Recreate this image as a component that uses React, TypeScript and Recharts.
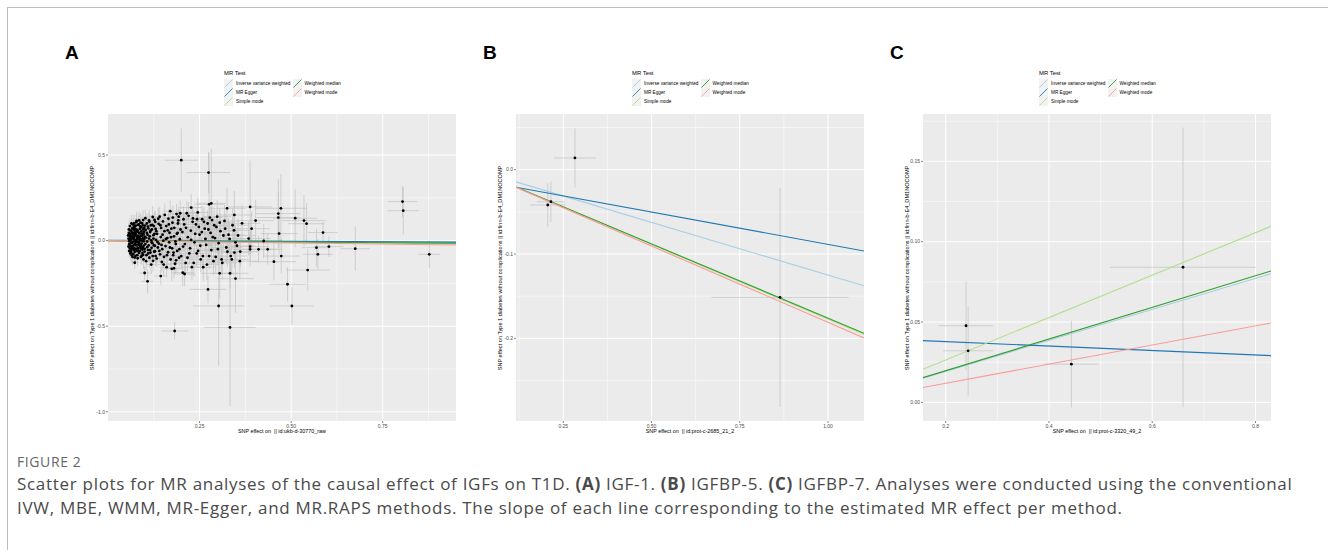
import React from "react";
import {
  ScatterChart,
  Scatter,
  XAxis,
  YAxis,
  CartesianGrid,
  ErrorBar,
  ReferenceLine,
} from "recharts";

// [beta.exposure, beta.outcome, se.exposure, se.outcome]
type Pt = [number, number, number, number];

const methods = [
  "Inverse variance weighted",
  "MR Egger",
  "Simple mode",
  "Weighted median",
  "Weighted mode",
];
const methodColors = ["#a6cee3", "#1f78b4", "#b2df8a", "#33a02c", "#fb9a99"];

// ---- panel A : IGF-1 ----
const pointsA: Pt[] = [
  // dense cluster
  [0.056, 0.012, 0.004, 0.018], [0.058, -0.021, 0.005, 0.02], [0.059, 0.034, 0.004, 0.022],
  [0.06, -0.045, 0.005, 0.025], [0.061, 0.002, 0.004, 0.016], [0.062, 0.058, 0.005, 0.03],
  [0.063, -0.066, 0.006, 0.03], [0.064, 0.025, 0.005, 0.02], [0.065, -0.012, 0.005, 0.019],
  [0.066, 0.071, 0.006, 0.034], [0.067, -0.033, 0.005, 0.024], [0.068, 0.043, 0.006, 0.026],
  [0.069, -0.078, 0.006, 0.035], [0.07, 0.009, 0.005, 0.021], [0.071, -0.054, 0.006, 0.03],
  [0.072, 0.081, 0.007, 0.036], [0.073, -0.003, 0.006, 0.02], [0.074, 0.052, 0.006, 0.028],
  [0.075, -0.089, 0.007, 0.04], [0.076, 0.031, 0.006, 0.025], [0.077, -0.027, 0.006, 0.024],
  [0.078, 0.064, 0.007, 0.032], [0.079, -0.061, 0.007, 0.033], [0.08, 0.017, 0.006, 0.022],
  [0.081, -0.041, 0.007, 0.028], [0.082, 0.092, 0.008, 0.04], [0.083, -0.008, 0.006, 0.02],
  [0.084, 0.047, 0.007, 0.03], [0.085, -0.072, 0.008, 0.036], [0.086, 0.005, 0.007, 0.024],
  [0.087, 0.069, 0.008, 0.035], [0.088, -0.036, 0.007, 0.028], [0.089, 0.028, 0.007, 0.026],
  [0.09, -0.095, 0.008, 0.042], [0.091, 0.056, 0.008, 0.032], [0.092, -0.017, 0.007, 0.025],
  [0.093, 0.102, 0.009, 0.045], [0.094, -0.052, 0.008, 0.032], [0.095, 0.013, 0.008, 0.026],
  [0.096, -0.083, 0.009, 0.04], [0.097, 0.038, 0.008, 0.03], [0.098, -0.004, 0.008, 0.025],
  [0.099, 0.075, 0.009, 0.038], [0.1, -0.064, 0.009, 0.036], [0.057, 0.045, 0.004, 0.022],
  [0.06, 0.022, 0.005, 0.019], [0.062, -0.032, 0.005, 0.021], [0.064, -0.055, 0.005, 0.027],
  [0.066, 0.015, 0.005, 0.018], [0.068, -0.007, 0.005, 0.02], [0.07, 0.062, 0.006, 0.03],
  [0.072, -0.043, 0.006, 0.026], [0.074, -0.018, 0.006, 0.022], [0.076, 0.088, 0.007, 0.038],
  [0.078, -0.005, 0.006, 0.021], [0.08, 0.051, 0.007, 0.029], [0.082, -0.058, 0.007, 0.031],
  [0.084, 0.021, 0.007, 0.024], [0.086, -0.025, 0.007, 0.026], [0.088, 0.083, 0.008, 0.038],
  [0.09, 0.001, 0.007, 0.024], [0.092, 0.042, 0.008, 0.03], [0.094, -0.071, 0.008, 0.036],
  [0.096, 0.066, 0.008, 0.034], [0.098, -0.029, 0.008, 0.028], [0.1, 0.024, 0.008, 0.027],
  [0.058, -0.004, 0.004, 0.017], [0.063, 0.008, 0.005, 0.019], [0.067, 0.029, 0.005, 0.022],
  [0.071, 0.038, 0.006, 0.025], [0.075, 0.004, 0.006, 0.021], [0.079, 0.027, 0.007, 0.024],
  [0.083, -0.022, 0.007, 0.025], [0.087, 0.011, 0.007, 0.024], [0.091, -0.047, 0.008, 0.03],
  [0.095, 0.089, 0.009, 0.04], [0.065, -0.085, 0.006, 0.038], [0.069, 0.093, 0.007, 0.04],
  [0.073, -0.099, 0.007, 0.043], [0.077, 0.108, 0.008, 0.045], [0.081, -0.103, 0.008, 0.045],
  [0.085, 0.118, 0.009, 0.048],
  [0.055, 0.03, 0.004, 0.03], [0.056, -0.035, 0.004, 0.032], [0.057, 0.065, 0.005, 0.04],
  [0.058, -0.06, 0.005, 0.038], [0.059, 0.005, 0.005, 0.028], [0.06, 0.085, 0.005, 0.045],
  [0.061, -0.075, 0.005, 0.042], [0.062, 0.04, 0.005, 0.033], [0.063, -0.015, 0.005, 0.03],
  [0.064, 0.1, 0.006, 0.05], [0.065, 0.048, 0.006, 0.036], [0.066, -0.045, 0.006, 0.036],
  [0.067, -0.095, 0.006, 0.048], [0.068, 0.075, 0.006, 0.042], [0.069, 0.018, 0.006, 0.032],
  [0.07, -0.025, 0.006, 0.034], [0.071, 0.1, 0.007, 0.05], [0.072, 0.022, 0.006, 0.034],
  [0.073, -0.065, 0.007, 0.042], [0.074, 0.07, 0.007, 0.044], [0.075, 0.042, 0.007, 0.038],
  [0.076, -0.05, 0.007, 0.04], [0.077, -0.008, 0.007, 0.035], [0.078, 0.115, 0.008, 0.055],
  [0.079, 0.008, 0.007, 0.036], [0.08, -0.085, 0.008, 0.048], [0.081, 0.06, 0.008, 0.044],
  [0.082, 0.028, 0.008, 0.04], [0.083, -0.045, 0.008, 0.042], [0.084, 0.095, 0.008, 0.05],
  [0.085, -0.012, 0.008, 0.04], [0.086, 0.042, 0.008, 0.044], [0.087, -0.06, 0.009, 0.046],
  [0.088, 0.012, 0.009, 0.042], [0.089, 0.105, 0.009, 0.055], [0.09, -0.03, 0.009, 0.044],
  [0.091, 0.078, 0.009, 0.05], [0.092, -0.088, 0.009, 0.052], [0.093, 0.03, 0.009, 0.046],
  [0.094, -0.002, 0.009, 0.044], [0.095, -0.04, 0.01, 0.048], [0.096, 0.12, 0.01, 0.058],
  [0.097, -0.11, 0.01, 0.056], [0.098, 0.052, 0.01, 0.05], [0.099, 0.01, 0.01, 0.046],
  [0.1, -0.048, 0.01, 0.05], [0.101, 0.088, 0.01, 0.054], [0.102, -0.02, 0.01, 0.048],
  [0.103, 0.062, 0.011, 0.052], [0.104, 0.018, 0.011, 0.05], [0.105, -0.085, 0.011, 0.056],
  [0.106, 0.1, 0.011, 0.058], [0.107, -0.005, 0.011, 0.05], [0.108, 0.035, 0.011, 0.052],
  [0.109, -0.055, 0.012, 0.054], [0.11, 0.072, 0.012, 0.056], [0.111, -0.028, 0.012, 0.052],
  [0.112, 0.118, 0.012, 0.06], [0.113, -0.1, 0.012, 0.058], [0.114, 0.025, 0.012, 0.052],
  [0.115, 0.05, 0.012, 0.054], [0.116, -0.07, 0.013, 0.056], [0.117, 0.09, 0.013, 0.058],
  [0.118, 0.002, 0.013, 0.052], [0.119, -0.042, 0.013, 0.054], [0.12, 0.065, 0.013, 0.058],
  [0.121, -0.015, 0.013, 0.054], [0.122, 0.138, 0.014, 0.064], [0.123, -0.118, 0.014, 0.062],
  [0.124, 0.012, 0.014, 0.054], [0.125, 0.085, 0.014, 0.06], [0.126, -0.065, 0.014, 0.058],
  [0.127, 0.04, 0.014, 0.056], [0.128, -0.03, 0.014, 0.056], [0.129, 0.11, 0.015, 0.062],
  [0.13, -0.09, 0.015, 0.06],
  // 0.10 - 0.25
  [0.102, 0.131, 0.01, 0.05], [0.104, -0.12, 0.01, 0.05], [0.106, 0.045, 0.01, 0.035],
  [0.107, -0.038, 0.01, 0.033], [0.109, 0.082, 0.011, 0.04], [0.11, -0.075, 0.011, 0.04],
  [0.112, 0.012, 0.011, 0.03], [0.113, 0.11, 0.012, 0.05], [0.115, -0.055, 0.012, 0.038],
  [0.116, 0.058, 0.012, 0.04], [0.118, -0.14, 0.013, 0.055], [0.119, -0.01, 0.012, 0.032],
  [0.121, 0.092, 0.013, 0.045], [0.122, -0.09, 0.013, 0.045], [0.124, 0.032, 0.013, 0.036],
  [0.125, -0.028, 0.013, 0.035], [0.127, 0.121, 0.014, 0.05], [0.128, -0.062, 0.014, 0.042],
  [0.13, 0.068, 0.014, 0.044], [0.131, 0.005, 0.014, 0.035], [0.133, -0.105, 0.015, 0.05],
  [0.134, 0.04, 0.015, 0.04], [0.136, -0.04, 0.015, 0.04], [0.138, 0.098, 0.016, 0.05],
  [0.139, -0.018, 0.015, 0.038], [0.141, 0.14, 0.016, 0.055], [0.142, -0.08, 0.016, 0.046],
  [0.144, 0.021, 0.016, 0.04], [0.145, 0.074, 0.017, 0.046], [0.147, -0.125, 0.017, 0.055],
  [0.148, -0.05, 0.017, 0.044], [0.15, 0.112, 0.018, 0.052], [0.151, 0.0, 0.017, 0.04],
  [0.153, -0.095, 0.018, 0.05], [0.154, 0.055, 0.018, 0.046], [0.157, -0.032, 0.018, 0.044],
  [0.159, 0.085, 0.019, 0.05], [0.16, -0.155, 0.019, 0.06], [0.162, 0.015, 0.019, 0.044],
  [0.164, -0.068, 0.02, 0.05], [0.165, 0.128, 0.02, 0.056], [0.167, -0.01, 0.02, 0.045],
  [0.168, 0.046, 0.02, 0.048], [0.17, 0.172, 0.021, 0.062], [0.171, -0.11, 0.021, 0.055],
  [0.173, 0.07, 0.021, 0.05], [0.175, -0.045, 0.021, 0.05], [0.176, 0.105, 0.022, 0.056],
  [0.178, -0.085, 0.022, 0.055], [0.18, 0.025, 0.022, 0.05], [0.187, 0.155, 0.023, 0.06],
  [0.183, -0.135, 0.023, 0.06], [0.185, -0.02, 0.023, 0.05], [0.193, 0.14, 0.024, 0.056],
  [0.189, -0.06, 0.024, 0.055], [0.19, 0.045, 0.024, 0.052], [0.192, 0.118, 0.025, 0.06],
  [0.194, -0.1, 0.025, 0.06], [0.196, 0.008, 0.025, 0.052], [0.198, 0.065, 0.026, 0.058],
  [0.132, 0.055, 0.015, 0.058], [0.135, -0.008, 0.015, 0.056], [0.137, 0.128, 0.016, 0.064],
  [0.14, -0.06, 0.016, 0.06], [0.143, 0.09, 0.016, 0.062], [0.146, -0.025, 0.017, 0.06],
  [0.149, 0.035, 0.017, 0.06], [0.152, -0.14, 0.018, 0.068], [0.155, 0.15, 0.018, 0.068],
  [0.158, 0.01, 0.018, 0.062], [0.161, -0.085, 0.019, 0.066], [0.163, 0.06, 0.019, 0.064],
  [0.166, 0.095, 0.02, 0.066], [0.169, -0.04, 0.02, 0.064], [0.172, 0.02, 0.02, 0.064],
  [0.174, -0.165, 0.021, 0.072], [0.177, 0.135, 0.021, 0.07], [0.179, -0.07, 0.021, 0.068],
  [0.181, 0.075, 0.022, 0.068], [0.184, -0.005, 0.022, 0.066], [0.186, -0.115, 0.023, 0.072],
  [0.188, 0.04, 0.023, 0.068], [0.191, 0.1, 0.023, 0.072], [0.195, -0.05, 0.024, 0.07],
  [0.197, 0.16, 0.025, 0.076], [0.2, -0.09, 0.025, 0.074], [0.203, 0.05, 0.025, 0.072],
  [0.206, 0.125, 0.026, 0.076], [0.21, -0.02, 0.026, 0.072], [0.213, 0.075, 0.027, 0.076],
  [0.217, -0.1, 0.027, 0.078], [0.22, 0.145, 0.028, 0.08], [0.224, -0.045, 0.028, 0.076],
  [0.227, 0.005, 0.029, 0.076], [0.231, 0.11, 0.029, 0.08], [0.234, -0.13, 0.03, 0.082],
  [0.238, 0.04, 0.03, 0.078], [0.242, -0.075, 0.031, 0.08], [0.245, 0.165, 0.031, 0.085],
  [0.248, 0.08, 0.032, 0.082],
  // 0.20 - 0.36
  [0.205, -0.035, 0.026, 0.06], [0.208, 0.095, 0.027, 0.065], [0.212, -0.13, 0.028, 0.07],
  [0.215, 0.16, 0.028, 0.07], [0.218, 0.02, 0.028, 0.06], [0.222, -0.075, 0.029, 0.068],
  [0.226, 0.058, 0.03, 0.066], [0.229, -0.155, 0.03, 0.075], [0.232, 0.13, 0.031, 0.072],
  [0.236, -0.01, 0.031, 0.064], [0.24, 0.095, 0.032, 0.07], [0.243, 0.125, 0.032, 0.074],
  [0.246, -0.06, 0.033, 0.07], [0.25, 0.035, 0.033, 0.068], [0.253, -0.11, 0.034, 0.075],
  [0.257, 0.125, 0.034, 0.076], [0.26, -0.155, 0.035, 0.08], [0.264, 0.07, 0.035, 0.074],
  [0.268, -0.025, 0.036, 0.072], [0.272, 0.1, 0.036, 0.078], [0.276, -0.09, 0.037, 0.078],
  [0.28, 0.045, 0.037, 0.076], [0.284, 0.12, 0.038, 0.08], [0.288, -0.12, 0.038, 0.082],
  [0.292, 0.015, 0.039, 0.078], [0.296, 0.08, 0.04, 0.08], [0.3, -0.05, 0.04, 0.08],
  [0.305, 0.105, 0.041, 0.085], [0.31, -0.11, 0.042, 0.088], [0.315, 0.03, 0.042, 0.082],
  [0.32, 0.07, 0.043, 0.086], [0.326, -0.065, 0.044, 0.088], [0.332, 0.01, 0.045, 0.086],
  [0.338, -0.11, 0.046, 0.09], [0.344, 0.06, 0.047, 0.09], [0.352, -0.03, 0.048, 0.09],
  [0.252, -0.03, 0.032, 0.08], [0.256, 0.05, 0.033, 0.082], [0.259, -0.09, 0.033, 0.085],
  [0.262, 0.11, 0.034, 0.086], [0.266, 0.01, 0.034, 0.084], [0.27, -0.14, 0.035, 0.09],
  [0.274, 0.065, 0.035, 0.086], [0.278, 0.135, 0.036, 0.09], [0.282, -0.055, 0.036, 0.088],
  [0.286, 0.02, 0.037, 0.088], [0.29, 0.09, 0.037, 0.09], [0.294, -0.095, 0.038, 0.092],
  [0.298, 0.14, 0.039, 0.095], [0.302, -0.015, 0.039, 0.09], [0.307, 0.055, 0.04, 0.092],
  [0.312, -0.13, 0.041, 0.096], [0.318, 0.115, 0.042, 0.096], [0.323, -0.04, 0.043, 0.094],
  [0.329, 0.035, 0.044, 0.095], [0.335, -0.09, 0.045, 0.098], [0.34, 0.09, 0.046, 0.098],
  [0.348, -0.01, 0.047, 0.1], [0.355, 0.03, 0.048, 0.1], [0.36, -0.12, 0.049, 0.105],
  // scattered / outlying SNPs
  [0.2, 0.47, 0.045, 0.185], [0.2745, 0.398, 0.06, 0.12], [0.276, 0.212, 0.04, 0.3],
  [0.282, 0.218, 0.04, 0.32], [0.325, 0.189, 0.05, 0.12], [0.227, 0.193, 0.03, 0.08],
  [0.388, 0.197, 0.06, 0.27], [0.472, 0.189, 0.07, 0.2], [0.465, 0.158, 0.06, 0.2],
  [0.465, 0.135, 0.06, 0.15], [0.511, 0.131, 0.06, 0.17], [0.535, 0.117, 0.06, 0.15],
  [0.542, 0.099, 0.05, 0.12], [0.403, 0.117, 0.05, 0.12], [0.366, 0.101, 0.05, 0.11],
  [0.345, 0.15, 0.05, 0.14], [0.392, 0.07, 0.05, 0.1], [0.467, 0.041, 0.05, 0.12],
  [0.587, 0.047, 0.04, 0.06], [0.384, 0.012, 0.06, 0.1], [0.425, -0.002, 0.05, 0.1],
  [0.388, -0.035, 0.05, 0.09], [0.388, -0.051, 0.06, 0.1], [0.411, -0.051, 0.05, 0.08],
  [0.436, -0.051, 0.04, 0.09], [0.569, -0.041, 0.04, 0.11], [0.573, -0.08, 0.04, 0.09],
  [0.603, -0.035, 0.04, 0.06], [0.675, -0.047, 0.04, 0.13], [0.804, 0.228, 0.04, 0.09],
  [0.806, 0.175, 0.043, 0.14], [0.877, -0.08, 0.03, 0.08], [0.473, -0.09, 0.05, 0.1],
  [0.453, -0.123, 0.06, 0.11], [0.545, -0.172, 0.06, 0.12], [0.49, -0.255, 0.05, 0.1],
  [0.502, -0.382, 0.06, 0.11], [0.302, -0.382, 0.07, 0.35], [0.333, -0.507, 0.07, 0.46],
  [0.273, -0.285, 0.05, 0.08], [0.182, -0.528, 0.036, 0.05], [0.1, -0.189, 0.015, 0.04],
  [0.108, -0.238, 0.016, 0.07], [0.144, -0.207, 0.018, 0.05], [0.073, -0.129, 0.01, 0.035],
  [0.305, -0.191, 0.05, 0.15], [0.333, -0.191, 0.05, 0.09], [0.348, -0.222, 0.05, 0.2],
  [0.204, -0.187, 0.03, 0.08], [0.209, -0.195, 0.03, 0.07], [0.18, -0.162, 0.025, 0.06],
  [0.345, -0.07, 0.05, 0.09], [0.361, -0.064, 0.05, 0.09],
];
const interceptsA = [0, 0.0015, 0, 0, 0];
const slopesA = [-0.013, -0.011, -0.02, -0.016, -0.027];
const xTicksA = [0.25, 0.5, 0.75];
const yTicksA = [-1, -0.5, 0, 0.5];
const xMinorA = [0.125, 0.375, 0.625, 0.875];
const yMinorA = [-0.75, -0.25, 0.25];

// ---- panel B : IGFBP-5 ----
const pointsB: Pt[] = [
  [0.283, 0.0139, 0.06, 0.035],
  [0.206, -0.0419, 0.05, 0.026],
  [0.215, -0.038, 0.04, 0.024],
  [0.864, -0.1514, 0.194, 0.13],
];
const interceptsB = [0, -0.012, 0, 0, 0];
const slopesB = [-0.125, -0.0766, -0.177, -0.176, -0.181];
const xTicksB = [0.25, 0.5, 0.75, 1.0];
const yTicksB = [-0.2, -0.1, 0];
const xMinorB = [0.125, 0.375, 0.625, 0.875];
const yMinorB = [-0.25, -0.15, -0.05, 0.05];

// ---- panel C : IGFBP-7 ----
const pointsC: Pt[] = [
  [0.2394, 0.0477, 0.053, 0.0274],
  [0.2434, 0.0321, 0.0485, 0.0278],
  [0.4434, 0.0238, 0.052, 0.027],
  [0.6596, 0.0841, 0.1415, 0.087],
];
const interceptsC = [0, 0.0406, 0, 0, 0];
const slopesC = [0.0965, -0.0139, 0.132, 0.0985, 0.0595];
const xTicksC = [0.2, 0.4, 0.6, 0.8];
const yTicksC = [0, 0.05, 0.1, 0.15];
const xMinorC = [0.3, 0.5, 0.7];
const yMinorC = [0.025, 0.075, 0.125, 0.175];

const yTitle =
  "SNP effect on Type 1 diabetes without complications || id:finn-b-E4_DM1NOCOMP";

const SANS = "'Liberation Sans', Arial, sans-serif";
const PLOT_TOP = 114;
const PW = 348;
const PH = 307;
const YW = 40;
const MT = 4;
const MR = 4;
const XH = 12;

const Dot = (p: any) =>
  p.cx == null ? null : <circle cx={p.cx} cy={p.cy} r={1.4} fill="#000" />;

function LegendKey({ color }: { color: string }) {
  return (
    <svg width={9} height={9} style={{ display: "block" }}>
      <rect width={9} height={9} fill="#F2F2F2" />
      <line x1={0.5} y1={8.5} x2={8.5} y2={0.5} stroke={color} strokeWidth={0.9} />
    </svg>
  );
}

function MrLegend({ left }: { left: number }) {
  const cols = [0, 0, 0, 1, 1];
  const rows = [0, 1, 2, 0, 1];
  return (
    <>
      <div
        style={{
          position: "absolute",
          left,
          top: 69,
          fontSize: 5.9,
          lineHeight: "8px",
          color: "#000",
          whiteSpace: "nowrap",
        }}
      >
        MR Test
      </div>
      {methods.map((m, i) => (
        <div
          key={m}
          style={{
            position: "absolute",
            left: left + cols[i] * 68.5,
            top: 79 + rows[i] * 8.9,
            display: "flex",
            alignItems: "center",
            gap: 3,
            fontSize: 4.7,
            color: "#000",
            whiteSpace: "nowrap",
          }}
        >
          <LegendKey color={methodColors[i]} />
          <span>{m}</span>
        </div>
      ))}
    </>
  );
}

interface PanelProps {
  plotLeft: number;
  letter: string;
  letterLeft: number;
  pts: Pt[];
  intercepts: number[];
  slopes: number[];
  xDomain: [number, number];
  yDomain: [number, number];
  xTicks: number[];
  yTicks: number[];
  xMinor: number[];
  yMinor: number[];
  xDigits: number;
  yDigits: number;
  xTitle: string;
}

function Panel(props: PanelProps) {
  const {
    plotLeft, letter, letterLeft, pts, intercepts, slopes, xDomain, yDomain,
    xTicks, yTicks, xMinor, yMinor, xDigits, yDigits, xTitle,
  } = props;
  const data = pts.map(([x, y, xse, yse]) => ({ x, y, xse, yse }));
  const [x0, x1] = xDomain;
  const tickStyle = { fontSize: 5, fill: "#4d4d4d", fontFamily: SANS };

  return (
    <>
      <div
        style={{
          position: "absolute",
          left: letterLeft,
          top: 42.5,
          fontSize: 19,
          fontWeight: 700,
          lineHeight: 1,
          fontFamily: SANS,
        }}
      >
        {letter}
      </div>
      <MrLegend left={plotLeft + 116} />
      <div style={{ position: "absolute", left: plotLeft - YW, top: PLOT_TOP - MT }}>
        <ScatterChart
          width={PW + YW + MR}
          height={PH + MT + XH}
          margin={{ top: MT, right: MR, bottom: 0, left: 0 }}
        >
          <CartesianGrid
            fill="#EBEBEB"
            fillOpacity={1}
            stroke="#ffffff"
            strokeWidth={0.5}
            horizontalValues={yMinor}
            verticalValues={xMinor}
          />
          <CartesianGrid
            fill="none"
            stroke="#ffffff"
            strokeWidth={1}
            horizontalValues={yTicks}
            verticalValues={xTicks}
          />
          <XAxis
            type="number"
            dataKey="x"
            domain={xDomain}
            allowDataOverflow
            ticks={xTicks}
            tickFormatter={(v: number) => v.toFixed(xDigits)}
            axisLine={false}
            tickLine={{ stroke: "#333", strokeWidth: 0.6 }}
            tickSize={2}
            tickMargin={1}
            tick={tickStyle}
            height={XH}
            interval={0}
          />
          <YAxis
            type="number"
            dataKey="y"
            domain={yDomain}
            allowDataOverflow
            ticks={yTicks}
            tickFormatter={(v: number) => v.toFixed(yDigits)}
            axisLine={false}
            tickLine={{ stroke: "#333", strokeWidth: 0.6 }}
            tickSize={2}
            tickMargin={1}
            tick={tickStyle}
            width={YW}
            interval={0}
          />
          <Scatter data={data} isAnimationActive={false} shape={Dot}>
            <ErrorBar dataKey="yse" direction="y" width={0} stroke="#c2c2c2" strokeWidth={0.7} isAnimationActive={false} />
            <ErrorBar dataKey="xse" direction="x" width={0} stroke="#c2c2c2" strokeWidth={0.7} isAnimationActive={false} />
          </Scatter>
          {methods.map((m, i) => (
            <ReferenceLine
              key={m}
              segment={[
                { x: x0, y: intercepts[i] + slopes[i] * x0 },
                { x: x1, y: intercepts[i] + slopes[i] * x1 },
              ]}
              stroke={methodColors[i]}
              strokeWidth={1.1}
              ifOverflow="hidden"
            />
          ))}
        </ScatterChart>
      </div>
      <div
        style={{
          position: "absolute",
          left: plotLeft,
          width: PW,
          top: 428,
          textAlign: "center",
          fontSize: 5.4,
          lineHeight: "7px",
          fontFamily: SANS,
          whiteSpace: "pre",
        }}
      >
        {xTitle}
      </div>
      <div
        style={{
          position: "absolute",
          left: plotLeft - 16,
          top: PLOT_TOP + PH / 2,
          transform: "translate(-50%, -50%) rotate(-90deg)",
          fontSize: 5.6,
          lineHeight: "7px",
          fontFamily: SANS,
          whiteSpace: "nowrap",
        }}
      >
        {yTitle}
      </div>
    </>
  );
}

export default function App() {
  return (
    <div
      style={{
        position: "absolute",
        left: 0,
        top: 0,
        width: 1328,
        height: 550,
        background: "#fff",
        overflow: "hidden",
        fontFamily: SANS,
      }}
    >
      <div
        style={{
          position: "absolute",
          left: 7,
          top: 7,
          width: 1330,
          height: 560,
          borderTop: "1px solid #bdbdbd",
          borderLeft: "1px solid #bdbdbd",
        }}
      />
      <Panel
        plotLeft={108}
        letter="A"
        letterLeft={65}
        pts={pointsA}
        intercepts={interceptsA}
        slopes={slopesA}
        xDomain={[0, 0.95]}
        yDomain={[-1.054, 0.74]}
        xTicks={xTicksA}
        yTicks={yTicksA}
        xMinor={xMinorA}
        yMinor={yMinorA}
        xDigits={2}
        yDigits={1}
        xTitle="SNP effect on  || id:ukb-d-30770_raw"
      />
      <Panel
        plotLeft={516}
        letter="B"
        letterLeft={483}
        pts={pointsB}
        intercepts={interceptsB}
        slopes={slopesB}
        xDomain={[0.116, 1.102]}
        yDomain={[-0.298, 0.066]}
        xTicks={xTicksB}
        yTicks={yTicksB}
        xMinor={xMinorB}
        yMinor={yMinorB}
        xDigits={2}
        yDigits={1}
        xTitle="SNP effect on  || id:prot-c-2685_21_2"
      />
      <Panel
        plotLeft={923}
        letter="C"
        letterLeft={890}
        pts={pointsC}
        intercepts={interceptsC}
        slopes={slopesC}
        xDomain={[0.156, 0.83]}
        yDomain={[-0.0116, 0.1795]}
        xTicks={xTicksC}
        yTicks={yTicksC}
        xMinor={xMinorC}
        yMinor={yMinorC}
        xDigits={1}
        yDigits={2}
        xTitle="SNP effect on  || id:prot-c-3320_49_2"
      />
      <div
        style={{
          position: "absolute",
          left: 17,
          top: 453,
          fontSize: 14,
          letterSpacing: 0.6,
          color: "#666",
          fontFamily: "'Open Sans', sans-serif",
          lineHeight: "18px",
        }}
      >
        FIGURE 2
      </div>
      <div
        style={{
          position: "absolute",
          left: 17,
          top: 472,
          width: 1310,
          fontSize: 17,
          letterSpacing: 0.7,
          color: "#4a4a4a",
          fontFamily: "'Open Sans', sans-serif",
          lineHeight: "24px",
          whiteSpace: "nowrap",
        }}
      >
        Scatter plots for MR analyses of the causal effect of IGFs on T1D. <b>(A)</b> IGF-1.{" "}
        <b>(B)</b> IGFBP-5. <b>(C)</b> IGFBP-7. Analyses were conducted using the conventional
        <br />
        IVW, MBE, WMM, MR-Egger, and MR.RAPS methods. The slope of each line corresponding to the
        estimated MR effect per method.
      </div>
    </div>
  );
}
